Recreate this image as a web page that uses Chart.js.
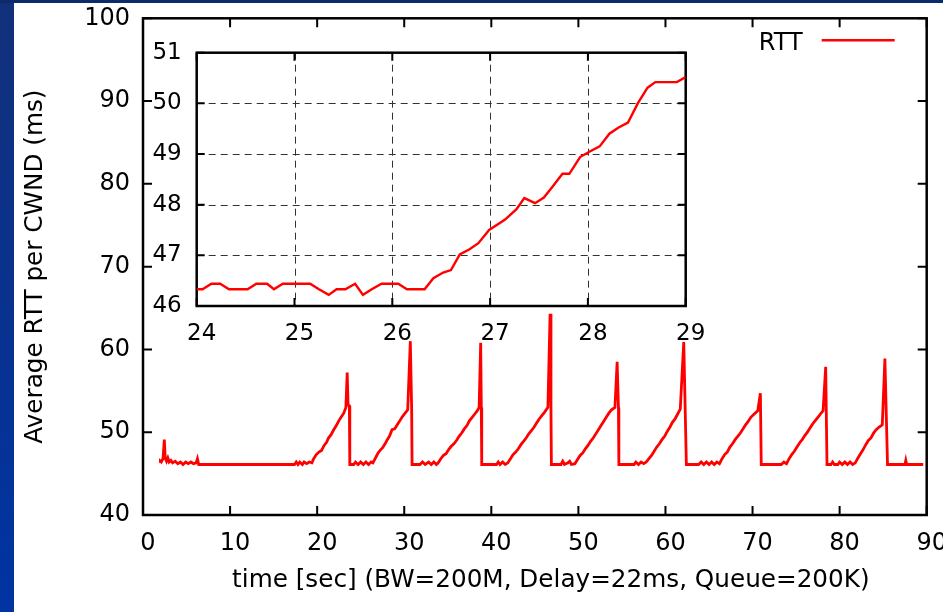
<!DOCTYPE html>
<html>
<head>
<meta charset="utf-8">
<script src="https://cdn.jsdelivr.net/npm/chart.js@4.4.1/dist/chart.umd.min.js"></script>
<style>
  body { margin: 0; width: 943px; height: 612px; background: #fff; position: relative; overflow: hidden; }
  #sideBar { position: absolute; left: 0; top: 0; width: 14px; height: 612px; background: linear-gradient(#12307a, #0034a3); }
  #topBar { position: absolute; left: 0; top: 0; width: 943px; height: 3px; background: #0c2a6c; }
  #main { position: absolute; left: 0; top: 0; }
  #inset { position: absolute; left: 140px; top: 30px; }
</style>
</head>
<body>
<div id="sideBar"></div>
<div id="topBar"></div>
<canvas id="main" width="943" height="612"></canvas>
<canvas id="inset" width="580" height="330"></canvas>
<script>
// main plot: average RTT per CWND over the whole run
const mainTime = [
  0.0, 0.1, 0.2, 0.35, 0.5, 0.7, 0.9, 1.1, 1.3, 1.5, 1.7, 1.9, 2.1, 2.3, 2.45, 2.55, 2.7, 2.85,
  3.0, 3.2, 3.4, 3.7, 4.0, 4.3, 4.6, 4.9, 5.2, 5.5, 5.8, 6.1, 6.25, 6.4, 17.4,
  17.6, 17.8, 18.0, 18.3, 18.5, 18.8, 19.1, 19.4,
  19.6, 19.9, 20.2, 20.5, 20.8, 21.1, 21.3, 21.6, 21.9, 22.2, 22.5, 22.8, 23.05, 23.3, 23.45, 23.55, 23.7, 23.75,
  24.2, 24.4, 24.7, 25.0, 25.3, 25.6, 25.9, 26.2, 26.4,
  26.6, 26.8, 27.0, 27.3, 27.5, 27.8, 28.0, 28.3, 28.6, 28.9, 29.2, 29.5, 29.8, 30.1, 30.4, 30.7, 30.85, 30.9,
  31.8, 32.1, 32.4, 32.8, 33.1, 33.4, 33.7, 33.9,
  34.2, 34.5, 34.8, 35.1, 35.4, 35.7, 36.0, 36.3, 36.6, 36.9, 37.2, 37.5, 37.8, 38.1, 38.4, 38.6, 38.78, 38.85, 38.9,
  40.6, 40.8, 41.0, 41.3, 41.6, 41.9,
  42.2, 42.5, 42.8, 43.1, 43.4, 43.7, 44.0, 44.3, 44.6, 44.9, 45.2, 45.5, 45.8, 46.1, 46.5, 46.75, 46.85, 46.9,
  48.0, 48.2, 48.4, 48.8, 49.0, 49.2, 49.6,
  49.9, 50.2, 50.5, 50.8, 51.1, 51.4, 51.7, 52.0, 52.3, 52.6, 52.9, 53.2, 53.5, 53.8, 54.2, 54.45, 54.6, 54.65,
  56.4, 56.6, 56.9, 57.2, 57.5, 57.8,
  58.1, 58.4, 58.7, 59.0, 59.3, 59.6, 59.9, 60.2, 60.5, 60.8, 61.1, 61.4, 61.7, 62.1, 62.4,
  63.8, 64.1, 64.4, 64.7, 65.0, 65.3, 65.6, 65.9, 66.2,
  66.5, 66.8, 67.1, 67.4, 67.7, 68.0, 68.3, 68.6, 68.9, 69.2, 69.5, 69.8, 70.1, 70.6, 70.9, 71.0,
  73.3, 73.6, 73.9,
  74.2, 74.5, 74.8, 75.1, 75.4, 75.7, 76.0, 76.3, 76.6, 76.9, 77.2, 77.5, 77.8, 78.1, 78.4, 78.55,
  79.0, 79.2, 79.4, 79.8, 80.0, 80.3, 80.6, 80.9, 81.2, 81.5, 81.8,
  82.1, 82.4, 82.7, 83.0, 83.3, 83.6, 83.9, 84.2, 84.5, 84.9, 85.2, 85.5,
  87.5, 87.6, 87.7, 89.6
];
const mainRtt = [
  47.6, 47.0, 46.5, 46.3, 46.0, 46.3, 46.1, 46.4, 46.2, 46.5, 46.3, 46.6, 46.4, 46.8, 49.1, 46.9, 46.5, 46.9,
  46.4, 46.6, 46.3, 46.5, 46.2, 46.4, 46.1, 46.4, 46.2, 46.4, 46.2, 46.3, 46.8, 46.1, 46.1,
  46.4, 46.1, 46.4, 46.1, 46.4, 46.2, 46.4, 46.3,
  46.8, 47.3, 47.6, 47.8, 48.4, 48.8, 49.3, 49.7, 50.3, 50.8, 51.4, 51.9, 52.3, 53.0, 57.2, 53.3, 53.2, 46.1,
  46.1, 46.4, 46.1, 46.4, 46.1, 46.4, 46.1, 46.4, 46.3,
  46.7, 47.1, 47.5, 47.9, 48.1, 48.6, 49.0, 49.5, 50.3, 50.4, 50.9, 51.4, 51.9, 52.3, 52.7, 61.0, 53.0, 46.1,
  46.1, 46.4, 46.1, 46.4, 46.1, 46.4, 46.1, 46.3,
  46.8, 47.2, 47.4, 47.9, 48.3, 48.6, 49.0, 49.5, 49.9, 50.4, 50.8, 51.4, 51.8, 52.2, 52.6, 53.0, 60.8, 53.0, 46.1,
  46.1, 46.4, 46.1, 46.4, 46.1, 46.3,
  46.8, 47.3, 47.6, 48.0, 48.5, 48.9, 49.3, 49.8, 50.2, 50.6, 51.1, 51.6, 52.0, 52.4, 53.0, 64.3, 53.0, 46.1,
  46.1, 46.5, 46.1, 46.3, 46.5, 46.1, 46.2,
  46.7, 47.2, 47.5, 48.0, 48.4, 48.9, 49.3, 49.8, 50.3, 50.8, 51.3, 51.8, 52.3, 52.7, 53.0, 58.5, 53.0, 46.1,
  46.1, 46.4, 46.1, 46.4, 46.2, 46.4,
  46.8, 47.2, 47.7, 48.2, 48.6, 49.1, 49.5, 50.1, 50.6, 51.2, 51.6, 52.2, 52.8, 60.9, 46.1,
  46.1, 46.4, 46.1, 46.4, 46.1, 46.4, 46.1, 46.4, 46.2,
  46.8, 47.3, 47.6, 48.2, 48.6, 49.1, 49.5, 49.9, 50.4, 50.9, 51.3, 51.8, 52.1, 52.6, 54.7, 46.1,
  46.1, 46.4, 46.2,
  46.8, 47.3, 47.7, 48.2, 48.7, 49.1, 49.6, 50.0, 50.5, 51.0, 51.4, 51.8, 52.2, 52.6, 57.9, 46.1,
  46.1, 46.4, 46.1, 46.1, 46.4, 46.1, 46.4, 46.1, 46.4, 46.1, 46.3,
  46.9, 47.4, 47.9, 48.5, 49.0, 49.3, 49.9, 50.3, 50.6, 50.9, 58.9, 46.1,
  46.1, 46.6, 46.1, 46.1
];

// inset: zoom on 24..29 s
const insetTime = [
  24.00, 24.06, 24.15, 24.24, 24.33, 24.52, 24.61, 24.72, 24.79, 24.88, 25.16, 25.25, 25.35, 25.43, 25.52, 25.62,
  25.70, 25.79, 25.89, 26.06, 26.15, 26.33, 26.42, 26.52, 26.60, 26.69, 26.79, 26.88, 26.99, 27.15, 27.27, 27.35,
  27.46, 27.55, 27.64, 27.74, 27.81, 27.92, 28.01, 28.12, 28.22, 28.31, 28.41, 28.51, 28.61, 28.69, 28.91, 29.00
];
const insetRtt = [
  46.33, 46.33, 46.44, 46.44, 46.33, 46.33, 46.44, 46.44, 46.33, 46.44, 46.44, 46.33, 46.22, 46.33, 46.33, 46.44,
  46.22, 46.33, 46.44, 46.44, 46.33, 46.33, 46.55, 46.66, 46.71, 47.02, 47.12, 47.24, 47.50, 47.70, 47.91, 48.13,
  48.03, 48.14, 48.36, 48.61, 48.61, 48.94, 49.04, 49.15, 49.40, 49.52, 49.62, 50.00, 50.31, 50.42, 50.42, 50.52
];

const mainXRange = [0, 90];
const mainYRange = [40, 100];
const insetXRange = [24, 29];
const insetYRange = [46, 51];

const seriesLabel = 'RTT';
const xTitle = 'time [sec] (BW=200M, Delay=22ms, Queue=200K)';
const yTitle = 'Average RTT per CWND (ms)';

const FONT = 'DejaVu Sans';
const RED = '#ff0000';

const toPoints = (xs, ys) => xs.map((x, i) => ({ x: x, y: ys[i] }));

// gnuplot-like frame: inward ticks on all four sides, optional dashed grid
const framePlugin = {
  id: 'frame',
  beforeDatasetsDraw(chart, args, opts) {
    const { ctx, chartArea: a, scales } = chart;
    ctx.save();
    if (opts.fill) {
      ctx.fillStyle = opts.fill;
      ctx.fillRect(a.left, a.top, a.right - a.left, a.bottom - a.top);
    }
    if (opts.grid) {
      ctx.setLineDash([7, 5]);
      ctx.strokeStyle = '#333';
      ctx.lineWidth = 1;
      scales.x.ticks.forEach(t => {
        const px = Math.round(scales.x.getPixelForValue(t.value)) + 0.5;
        if (px < a.left + 3 || px > a.right - 3) return;
        ctx.beginPath(); ctx.moveTo(px, a.top); ctx.lineTo(px, a.bottom); ctx.stroke();
      });
      scales.y.ticks.forEach(t => {
        const py = Math.round(scales.y.getPixelForValue(t.value)) + 0.5;
        if (py < a.top + 3 || py > a.bottom - 3) return;
        ctx.beginPath(); ctx.moveTo(a.left, py); ctx.lineTo(a.right, py); ctx.stroke();
      });
      ctx.setLineDash([]);
    }
    ctx.strokeStyle = '#000';
    ctx.lineWidth = 2;
    const len = opts.tickLength || 9;
    scales.x.ticks.forEach(t => {
      const px = scales.x.getPixelForValue(t.value);
      ctx.beginPath();
      ctx.moveTo(px, a.bottom); ctx.lineTo(px, a.bottom - len);
      ctx.moveTo(px, a.top); ctx.lineTo(px, a.top + len);
      ctx.stroke();
    });
    scales.y.ticks.forEach(t => {
      const py = scales.y.getPixelForValue(t.value);
      ctx.beginPath();
      ctx.moveTo(a.left, py); ctx.lineTo(a.left + len, py);
      ctx.moveTo(a.right, py); ctx.lineTo(a.right - len, py);
      ctx.stroke();
    });
    ctx.lineWidth = 2.5;
    ctx.strokeRect(a.left, a.top, a.right - a.left, a.bottom - a.top);
    ctx.restore();
  }
};

// key in the top right corner: label first, then the line sample
const keyPlugin = {
  id: 'key',
  afterDraw(chart, args, opts) {
    if (!opts.show) return;
    const { ctx, chartArea: a } = chart;
    const ds = chart.data.datasets[0];
    ctx.save();
    ctx.font = '24px "' + FONT + '"';
    ctx.fillStyle = '#000';
    ctx.textAlign = 'right';
    ctx.textBaseline = 'middle';
    ctx.fillText(ds.label, a.right - 124, a.top + 25);
    ctx.strokeStyle = ds.borderColor;
    ctx.lineWidth = 2.5;
    ctx.beginPath();
    ctx.moveTo(a.right - 105, a.top + 22);
    ctx.lineTo(a.right - 32, a.top + 22);
    ctx.stroke();
    ctx.restore();
  }
};

// gnuplot centres the x label a little right of the plot centre
const shiftTitlePlugin = {
  id: 'shiftTitle',
  afterLayout(chart, args, opts) {
    if (!opts.dx) return;
    chart.scales.x.left += opts.dx;
    chart.scales.x.right += opts.dx;
  }
};

// keep the plot box where the layout padding puts it (labels may overhang)
const fixX = h => s => { s.height = h; s.paddingLeft = 0; s.paddingRight = 0; };
const fixY = w => s => { s.width = w; s.paddingTop = 0; s.paddingBottom = 0; };

new Chart(document.getElementById('main'), {
  type: 'line',
  data: {
    datasets: [{
      label: seriesLabel,
      data: toPoints(mainTime, mainRtt),
      borderColor: RED,
      borderWidth: 2.8,
      pointRadius: 0,
      tension: 0,
      fill: false
    }]
  },
  options: {
    responsive: false,
    animation: false,
    events: [],
    layout: { padding: { left: 14, top: 18.3, right: 16.3, bottom: 0 } },
    plugins: {
      legend: { display: false },
      tooltip: { enabled: false },
      frame: { tickLength: 9 },
      key: { show: true },
      shiftTitle: { dx: 16 }
    },
    scales: {
      x: {
        type: 'linear',
        min: mainXRange[0], max: mainXRange[1],
        grid: { display: false, drawTicks: false },
        border: { display: false },
        ticks: { stepSize: 10, padding: 14, labelOffset: 5, color: '#000', font: { family: FONT, size: 24 }, maxRotation: 0 },
        title: { display: true, text: xTitle, color: '#000', font: { family: FONT, size: 24.7 }, padding: { top: 0, bottom: 17 } },
        afterFit: fixX(97)
      },
      y: {
        min: mainYRange[0], max: mainYRange[1],
        grid: { display: false, drawTicks: false },
        border: { display: false },
        ticks: { stepSize: 10, padding: 13, color: '#000', font: { family: FONT, size: 24 } },
        title: { display: true, text: yTitle, color: '#000', font: { family: FONT, size: 24.7 }, padding: { top: 7, bottom: 0 } },
        afterFit: fixY(129)
      }
    }
  },
  plugins: [framePlugin, keyPlugin, shiftTitlePlugin]
});

new Chart(document.getElementById('inset'), {
  type: 'line',
  data: {
    datasets: [{
      label: seriesLabel,
      data: toPoints(insetTime, insetRtt),
      borderColor: RED,
      borderWidth: 2.4,
      pointRadius: 0,
      tension: 0,
      fill: false
    }]
  },
  options: {
    responsive: false,
    animation: false,
    events: [],
    layout: { padding: { left: 0, top: 22.7, right: 34.3, bottom: 0 } },
    plugins: {
      legend: { display: false },
      tooltip: { enabled: false },
      frame: { tickLength: 8, grid: true, fill: '#fff' }
    },
    scales: {
      x: {
        type: 'linear',
        min: insetXRange[0], max: insetXRange[1],
        grid: { display: false, drawTicks: false },
        border: { display: false },
        ticks: { stepSize: 1, padding: 14, labelOffset: 5, color: '#000', font: { family: FONT, size: 23 }, maxRotation: 0 },
        afterFit: fixX(54)
      },
      y: {
        min: insetYRange[0], max: insetYRange[1],
        grid: { display: false, drawTicks: false },
        border: { display: false },
        ticks: { stepSize: 1, padding: 15, color: '#000', font: { family: FONT, size: 23 } },
        afterFit: fixY(56.7)
      }
    }
  },
  plugins: [framePlugin]
});
</script>
</body>
</html>
